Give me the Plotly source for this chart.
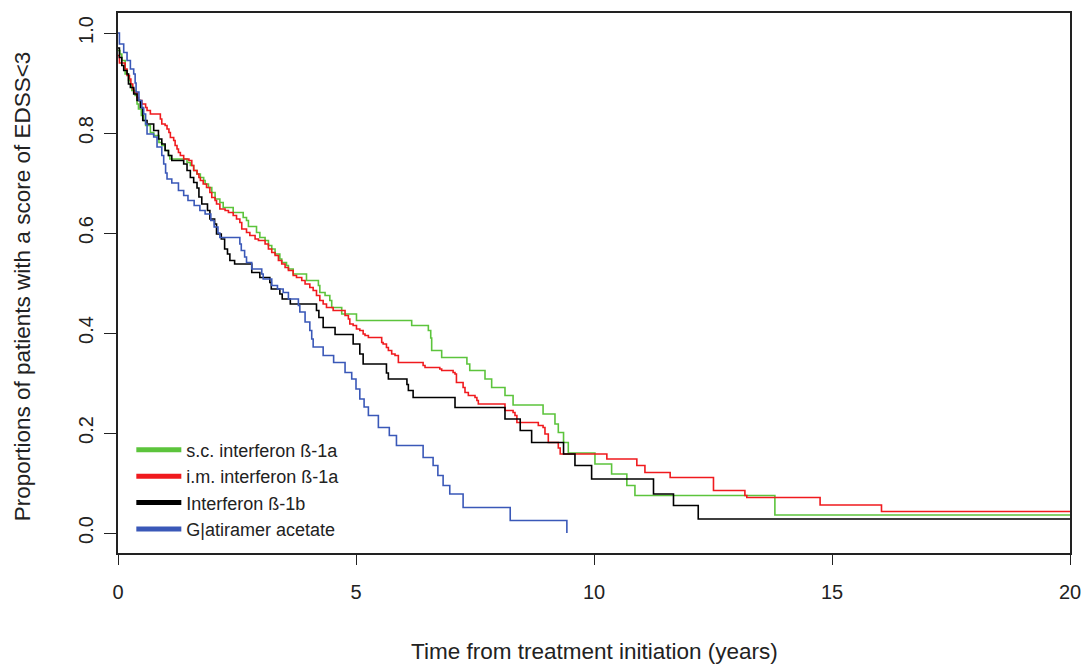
import plotly.graph_objects as go

# ---- data ----
sc_t = [0, 0.04, 0.08, 0.15, 0.22, 0.26, 0.29, 0.36, 0.40, 0.43, 0.49, 0.54, 0.58, 0.68, 0.75, 0.86, 0.92,
        0.99, 1.06, 1.09, 1.45, 1.52, 1.59, 1.66, 1.73, 1.80, 1.83, 1.90, 1.97, 2.04, 2.14, 2.21, 2.42,
        2.63, 2.70, 2.74, 2.91, 2.98, 3.09, 3.16, 3.23, 3.30, 3.40, 3.44, 3.54, 3.58, 3.68, 3.96, 4.21,
        4.24, 4.35, 4.45, 4.49, 4.70, 5.01, 6.17, 6.52, 6.57, 6.59, 6.80, 7.33, 7.39, 7.71, 7.85, 8.13,
        8.30, 8.93, 9.18, 9.25, 9.36, 9.46, 10.02, 10.37, 10.69, 10.86, 13.80, 20.0]
sc_s = [0.965, 0.958, 0.945, 0.918, 0.905, 0.898, 0.885, 0.875, 0.858, 0.848, 0.835, 0.825, 0.815, 0.801,
        0.795, 0.781, 0.775, 0.765, 0.755, 0.748, 0.741, 0.735, 0.725, 0.718, 0.711, 0.705, 0.698, 0.691,
        0.681, 0.668, 0.661, 0.651, 0.641, 0.631, 0.625, 0.613, 0.601, 0.591, 0.585, 0.575, 0.568, 0.558,
        0.548, 0.541, 0.535, 0.528, 0.518, 0.505, 0.495, 0.481, 0.475, 0.465, 0.451, 0.438, 0.425, 0.415,
        0.405, 0.39, 0.365, 0.351, 0.338, 0.325, 0.308, 0.291, 0.275, 0.256, 0.238, 0.218, 0.201, 0.181,
        0.160, 0.138, 0.118, 0.095, 0.075, 0.036, 0.036]

im_t = [0, 0.03, 0.15, 0.19, 0.24, 0.27, 0.31, 0.33, 0.40, 0.43, 0.50, 0.58, 0.61, 0.68, 0.89, 0.92, 0.99,
        1.03, 1.07, 1.10, 1.17, 1.20, 1.24, 1.27, 1.31, 1.38, 1.49, 1.55, 1.59, 1.66, 1.70, 1.73, 1.79,
        1.86, 1.93, 1.97, 2.04, 2.07, 2.14, 2.25, 2.32, 2.42, 2.49, 2.56, 2.60, 2.70, 2.77, 2.88, 2.95,
        3.09, 3.16, 3.23, 3.30, 3.37, 3.44, 3.51, 3.58, 3.68, 3.75, 3.86, 3.93, 4.03, 4.10, 4.17, 4.24,
        4.31, 4.38, 4.52, 4.77, 4.84, 4.87, 4.94, 5.01, 5.08, 5.15, 5.19, 5.26, 5.54, 5.57, 5.64, 5.68,
        5.75, 5.82, 5.89, 6.41, 6.45, 6.76, 6.80, 7.04, 7.08, 7.11, 7.25, 7.29, 7.36, 7.50, 7.54, 7.57,
        8.13, 8.30, 8.34, 8.38, 8.83, 8.93, 8.97, 9.04, 9.25, 9.29, 10.27, 10.90, 11.07, 11.60, 12.51,
        13.17, 13.21, 14.75, 16.04, 20.0]
im_s = [0.955, 0.94, 0.928, 0.915, 0.908, 0.898, 0.888, 0.881, 0.871, 0.865, 0.858, 0.851, 0.845, 0.838,
        0.828, 0.818, 0.815, 0.808, 0.801, 0.791, 0.785, 0.775, 0.768, 0.761, 0.755, 0.748, 0.745, 0.735,
        0.725, 0.718, 0.711, 0.705, 0.698, 0.691, 0.681, 0.671, 0.665, 0.658, 0.648, 0.645, 0.641, 0.635,
        0.628, 0.621, 0.608, 0.601, 0.595, 0.588, 0.585, 0.578, 0.568, 0.561, 0.555, 0.545, 0.538, 0.531,
        0.525, 0.515, 0.511, 0.505, 0.498, 0.491, 0.485, 0.475, 0.465, 0.458, 0.451, 0.445, 0.435, 0.428,
        0.418, 0.415, 0.408, 0.405, 0.398, 0.395, 0.391, 0.381, 0.378, 0.371, 0.365, 0.358, 0.355, 0.341,
        0.335, 0.331, 0.328, 0.325, 0.321, 0.318, 0.301, 0.291, 0.281, 0.275, 0.271, 0.265, 0.258, 0.245,
        0.241, 0.235, 0.221, 0.215, 0.211, 0.198, 0.181, 0.170, 0.158, 0.148, 0.135, 0.121, 0.111, 0.085,
        0.075, 0.071, 0.056, 0.043, 0.043]

b1b_t = [0, 0.03, 0.08, 0.12, 0.19, 0.22, 0.26, 0.33, 0.40, 0.47, 0.52, 0.61, 0.75, 0.85, 0.92, 0.99, 1.06,
         1.13, 1.38, 1.45, 1.52, 1.59, 1.66, 1.70, 1.76, 1.88, 1.93, 2.03, 2.07, 2.17, 2.24, 2.30, 2.35,
         2.45, 2.81, 2.98, 3.19, 3.22, 3.40, 3.45, 3.62, 4.17, 4.22, 4.31, 4.56, 4.94, 5.08, 5.15, 5.64,
         5.68, 6.07, 6.10, 6.20, 7.08, 8.13, 8.45, 8.69, 9.36, 9.60, 9.95, 11.25, 11.67, 12.19, 20.0]
b1b_s = [0.97, 0.951, 0.935, 0.925, 0.918, 0.898, 0.891, 0.878, 0.865, 0.851, 0.825, 0.818, 0.805, 0.788,
         0.778, 0.765, 0.755, 0.745, 0.738, 0.725, 0.711, 0.701, 0.69, 0.672, 0.658, 0.645, 0.628, 0.618,
         0.598, 0.588, 0.568, 0.558, 0.545, 0.538, 0.521, 0.511, 0.501, 0.488, 0.478, 0.468, 0.458, 0.445,
         0.431, 0.411, 0.397, 0.378, 0.358, 0.338, 0.32, 0.308, 0.297, 0.285, 0.271, 0.251, 0.228, 0.205,
         0.181, 0.158, 0.135, 0.108, 0.078, 0.055, 0.028, 0.028]

ga_t = [0, 0.03, 0.12, 0.19, 0.26, 0.33, 0.36, 0.38, 0.44, 0.50, 0.54, 0.58, 0.61, 0.75, 0.82, 0.92, 0.96,
        1.00, 1.03, 1.13, 1.27, 1.38, 1.47, 1.60, 1.72, 1.83, 1.95, 2.02, 2.10, 2.14, 2.56, 2.59, 2.66,
        2.70, 2.81, 3.02, 3.05, 3.23, 3.35, 3.47, 3.58, 3.79, 3.82, 3.93, 4.03, 4.07, 4.10, 4.31, 4.53,
        4.77, 4.91, 5.00, 5.08, 5.17, 5.26, 5.47, 5.70, 5.85, 6.41, 6.62, 6.72, 6.83, 6.97, 7.25, 8.24,
        9.43]
ga_s = [1.0, 0.978, 0.961, 0.945, 0.928, 0.918, 0.90, 0.882, 0.865, 0.85, 0.838, 0.818, 0.798, 0.792,
        0.772, 0.755, 0.738, 0.72, 0.708, 0.70, 0.685, 0.675, 0.665, 0.655, 0.645, 0.638, 0.625, 0.612,
        0.60, 0.591, 0.578, 0.565, 0.552, 0.541, 0.528, 0.518, 0.508, 0.495, 0.488, 0.481, 0.468, 0.455,
        0.442, 0.422, 0.405, 0.388, 0.372, 0.355, 0.341, 0.321, 0.308, 0.288, 0.268, 0.252, 0.235, 0.211,
        0.195, 0.175, 0.151, 0.135, 0.115, 0.095, 0.078, 0.051, 0.025, 0.0]

names = ["s.c. interferon \u00df-1a", "i.m. interferon \u00df-1a", "Interferon \u00df-1b", "G|atiramer acetate"]
colors = ["#5cc43c", "#f01a1e", "#000000", "#3a58b8"]
series = [(sc_t, sc_s), (im_t, im_s), (b1b_t, b1b_s), (ga_t, ga_s)]

FONT = "Liberation Sans, Arial, Helvetica, sans-serif"

fig = go.Figure()
for (t, s), c in zip(series, colors):
    fig.add_trace(go.Scatter(x=t, y=s, mode="lines", line=dict(color=c, width=1.6, shape="hv"),
                             showlegend=False, hoverinfo="x+y"))
# legend entries (thick swatches as in the reference)
for n, c in zip(names, colors):
    fig.add_trace(go.Scatter(x=[None], y=[None], mode="lines", name=n,
                             line=dict(color=c, width=5)))

fig.update_layout(
    width=1084, height=664,
    margin=dict(l=118, r=14, t=13, b=111, autoexpand=False),
    paper_bgcolor="white", plot_bgcolor="white",
    font=dict(family=FONT, size=18, color="#222222"),
    showlegend=True,
    legend=dict(x=0.014, y=0.010, xanchor="left", yanchor="bottom", bgcolor="rgba(0,0,0,0)",
                font=dict(size=18, color="#222222"), traceorder="normal", tracegroupgap=0,
                itemwidth=45),
)
fig.update_xaxes(range=[0, 20], tickvals=[0, 5, 10, 15, 20], ticktext=["0", "5", "10", "15", "20"],
                 ticks="outside", ticklen=10, tickwidth=1.3, tickcolor="#222222",
                 showline=True, linecolor="#222222", linewidth=1.5, mirror=True, automargin=False,
                 showgrid=False, zeroline=False, ticklabelstandoff=10,
                 tickfont=dict(size=20))
fig.update_yaxes(range=[-0.04, 1.04], tickvals=[0, 0.2, 0.4, 0.6, 0.8, 1.0],
                 ticktext=["0.0", "0.2", "0.4", "0.6", "0.8", "1.0"],
                 ticks="outside", ticklen=12, tickwidth=1.3, tickcolor="#222222",
                 showline=True, linecolor="#222222", linewidth=1.5, mirror=True, automargin=False,
                 showgrid=False, zeroline=False, tickangle=-90, ticklabelstandoff=3,
                 tickfont=dict(size=20))

fig.add_annotation(text="Time from treatment initiation (years)", xref="paper", yref="paper",
                   x=0.5, y=-0.182, xanchor="center", yanchor="middle", showarrow=False,
                   font=dict(size=22.5))
fig.add_annotation(text="Proportions of patients with a score of EDSS<3", xref="paper", yref="paper",
                   x=-0.1008, y=0.494, xanchor="center", yanchor="middle", showarrow=False,
                   textangle=-90, font=dict(size=22.5))

fig.write_html("out.html")
